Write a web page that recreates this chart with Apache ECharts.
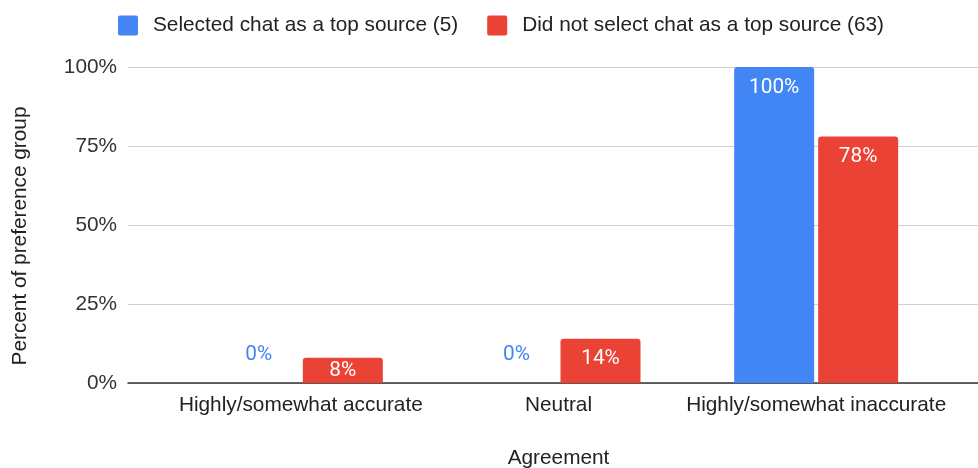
<!DOCTYPE html>
<html>
<head>
<meta charset="utf-8">
<script src="https://cdn.jsdelivr.net/npm/echarts@6/dist/echarts.min.js"></script>
<style>
  html, body { margin: 0; padding: 0; background: #fff; }
  #chart { width: 978px; height: 468px; }
</style>
</head>
<body>
<div id="chart"></div>
<script>
// Agreement categories and group shares (percent of preference group)
const categories = ['Highly/somewhat accurate', 'Neutral', 'Highly/somewhat inaccurate'];
const selectedChat = [0, 0, 100];
const notSelectedChat = [8, 14, 78];
const seriesNames = ['Selected chat as a top source (5)', 'Did not select chat as a top source (63)'];
const yTicks = [0, 25, 50, 75, 100];

const BLUE = '#4285F4';
const RED = '#EA4335';
const AXIS_FONT = "'Liberation Sans', Arial, sans-serif";
const LABEL_FONT = "Roboto, 'Liberation Sans', Arial, sans-serif";
const FS = 20.8;
// legend swatch: square with slightly rounded corners
const SWATCH = 'path://M2,0H18A2,2,0,0,1,20,2V18A2,2,0,0,1,18,20H2A2,2,0,0,1,0,18V2A2,2,0,0,1,2,0Z';

// Per-bar label placement: zero bars get a coloured label above the baseline,
// short bars get a centred label, tall bars get their label inside the top.
function barData(values, color) {
  return values.map(v => {
    let label;
    if (v === 0) {
      label = { position: 'top', distance: 18, color: color };
    } else if (v < 10) {
      label = { position: 'inside', color: '#fff' };
    } else {
      label = { position: 'insideTop', distance: 10, color: '#fff' };
    }
    return { value: v, label: label };
  });
}

const chart = echarts.init(document.getElementById('chart'), null, { renderer: 'canvas' });

chart.setOption({
  animation: false,
  backgroundColor: '#fff',
  legend: {
    top: 10,
    left: 113,
    itemWidth: 20,
    itemHeight: 20,
    itemGap: 29,
    icon: SWATCH,
    data: seriesNames,
    textStyle: { fontFamily: AXIS_FONT, fontSize: FS, color: '#222', padding: [0, 0, 0, 10] }
  },
  grid: [
    // grid holding the value scale, gridlines and baseline
    { left: 128, right: 0, top: 67, bottom: 85, containLabel: false, outerBoundsMode: 'none' },
    // grid holding the bars and categories
    { left: 172, right: 33, top: 67, bottom: 85, containLabel: false, outerBoundsMode: 'none' }
  ],
  xAxis: [
    {
      gridIndex: 0, type: 'value', min: 0, max: 1,
      axisLine: { show: true, onZero: false, lineStyle: { color: '#333', width: 1.5 } },
      axisTick: { show: false }, axisLabel: { show: false }, splitLine: { show: false }
    },
    {
      gridIndex: 1, type: 'category', data: categories,
      axisLine: { show: false }, axisTick: { show: false },
      axisLabel: { interval: 0, fontFamily: AXIS_FONT, fontSize: FS, color: '#222', margin: 12 },
      name: 'Agreement', nameLocation: 'middle', nameGap: 65,
      nameTextStyle: { fontFamily: AXIS_FONT, fontSize: FS, color: '#222' }
    }
  ],
  yAxis: [
    {
      gridIndex: 0, type: 'value', min: yTicks[0], max: yTicks[yTicks.length - 1], interval: 25,
      axisLine: { show: false }, axisTick: { show: false },
      axisLabel: { fontFamily: AXIS_FONT, fontSize: FS, color: '#333', margin: 11, formatter: '{value}%' },
      splitLine: { show: true, lineStyle: { color: '#d0d0d0', width: 1 } }
    },
    {
      gridIndex: 1, type: 'value', min: 0, max: 100, interval: 25,
      show: false, splitLine: { show: false }
    }
  ],
  graphic: [
    {
      type: 'text',
      x: 20, y: 236,
      rotation: Math.PI / 2,
      style: {
        text: 'Percent of preference group',
        fontFamily: AXIS_FONT, fontSize: FS, fill: '#222',
        textAlign: 'center', textVerticalAlign: 'middle'
      }
    }
  ],
  series: [
    {
      name: seriesNames[0], type: 'bar', xAxisIndex: 1, yAxisIndex: 1,
      barWidth: 80, barGap: '5%',
      itemStyle: { color: BLUE, borderRadius: [3, 3, 0, 0] },
      label: { show: true, formatter: '{c}%', fontFamily: LABEL_FONT, fontSize: FS },
      data: barData(selectedChat, BLUE)
    },
    {
      name: seriesNames[1], type: 'bar', xAxisIndex: 1, yAxisIndex: 1,
      barWidth: 80, barGap: '5%',
      itemStyle: { color: RED, borderRadius: [3, 3, 0, 0] },
      label: { show: true, formatter: '{c}%', fontFamily: LABEL_FONT, fontSize: FS },
      data: barData(notSelectedChat, RED)
    }
  ]
});
</script>
</body>
</html>
